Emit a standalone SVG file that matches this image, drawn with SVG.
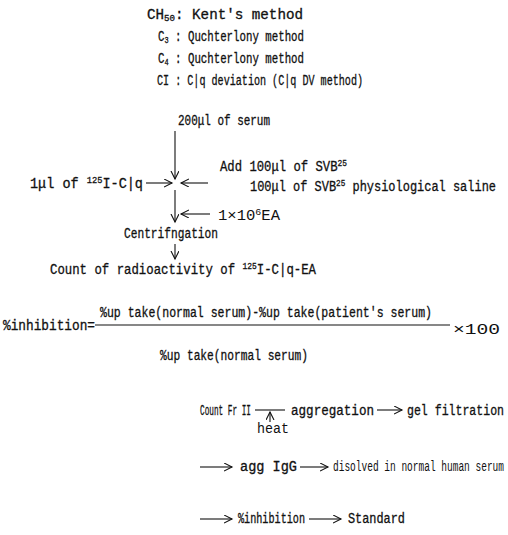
<svg xmlns="http://www.w3.org/2000/svg" width="508" height="535" viewBox="0 0 508 535">
<defs>
<style>
text{font-family:"Liberation Mono","DejaVu Sans Mono",monospace;font-size:14px;fill:#111;stroke:#111;stroke-width:0.3;}
text.lt{stroke:none;}
.sub{font-size:9px;}
.c line{stroke:#111;stroke-width:1.1;fill:none;}
.c .a{marker-end:url(#ah);}
</style>
<marker id="ah" markerWidth="10" markerHeight="10" refX="8" refY="4" orient="auto" markerUnits="userSpaceOnUse">
<path d="M0,0 L8,4 L0,8" fill="none" stroke="#111" stroke-width="1.1"/>
</marker>
</defs>
<rect width="508" height="535" fill="#fff"/>
<g id="methods">
<text x="147" y="19" textLength="156" lengthAdjust="spacingAndGlyphs">CH<tspan class="sub" dy="2">50</tspan><tspan dy="-2">: Kent's method</tspan></text>
<text x="158" y="41" textLength="146" lengthAdjust="spacingAndGlyphs">C<tspan class="sub" dy="2">3</tspan><tspan dy="-2"> : Quchterlony method</tspan></text>
<text x="158" y="63" textLength="146" lengthAdjust="spacingAndGlyphs">C<tspan class="sub" dy="2">4</tspan><tspan dy="-2"> : Quchterlony method</tspan></text>
<text x="157" y="85" textLength="206" lengthAdjust="spacingAndGlyphs">CI : C|q deviation (C|q DV method)</text>
</g>
<g id="serum"><text x="178" y="125" textLength="92" lengthAdjust="spacingAndGlyphs">200μl of serum</text></g>
<g id="c1q"><text x="30" y="188" textLength="113" lengthAdjust="spacingAndGlyphs">1μl of <tspan class="sub" dy="-5">125</tspan><tspan dy="5">I-C|q</tspan></text></g>
<g id="svb">
<text x="220" y="171" textLength="127" lengthAdjust="spacingAndGlyphs">Add 100μl of SVB<tspan class="sub" dy="-5">25</tspan></text>
<text x="250" y="191" textLength="246" lengthAdjust="spacingAndGlyphs">100μl of SVB<tspan class="sub" dy="-5">25</tspan><tspan dy="5"> physiological saline</tspan></text>
</g>
<g id="ea"><text class="lt" x="218" y="220" textLength="62" lengthAdjust="spacingAndGlyphs">1×10<tspan class="sub" dy="-5">6</tspan><tspan dy="5">EA</tspan></text></g>
<g id="centrifugation"><text x="124" y="238" textLength="94" lengthAdjust="spacingAndGlyphs">Centrifngation</text></g>
<g id="count"><text x="50" y="274" textLength="266" lengthAdjust="spacingAndGlyphs">Count of radioactivity of <tspan class="sub" dy="-5">125</tspan><tspan dy="5">I-C|q-EA</tspan></text></g>
<g id="formula">
<text x="100" y="317" textLength="332" lengthAdjust="spacingAndGlyphs">%up take(normal serum)-%up take(patient's serum)</text>
<text x="3" y="330" textLength="92" lengthAdjust="spacingAndGlyphs">%inhibition=</text>
<line x1="95" y1="325" x2="450" y2="325" stroke="#111" stroke-width="1.1"/>
<text class="lt" x="453" y="334" textLength="47" lengthAdjust="spacingAndGlyphs">×100</text>
<text x="160" y="360" textLength="148" lengthAdjust="spacingAndGlyphs">%up take(normal serum)</text>
</g>
<g id="frII"><text x="200" y="415" textLength="51" lengthAdjust="spacingAndGlyphs">Count Fr II</text></g>
<g id="heat"><text class="lt" x="257" y="433" textLength="32" lengthAdjust="spacingAndGlyphs">heat</text></g>
<g id="aggregation"><text x="291" y="415" textLength="83" lengthAdjust="spacingAndGlyphs">aggregation</text></g>
<g id="gel"><text x="407" y="415" textLength="97" lengthAdjust="spacingAndGlyphs">gel filtration</text></g>
<g id="aggIgG"><text x="240" y="471" textLength="57" lengthAdjust="spacingAndGlyphs">agg  IgG</text></g>
<g id="dissolved"><text class="lt" x="333" y="471" textLength="171" lengthAdjust="spacingAndGlyphs">disolved in normal human serum</text></g>
<g id="inhibition"><text x="238" y="523" textLength="67" lengthAdjust="spacingAndGlyphs">%inhibition</text></g>
<g id="standard"><text x="348" y="523" textLength="57" lengthAdjust="spacingAndGlyphs">Standard</text></g>
<g id="connectors" class="c">
<line class="a" x1="175" y1="131" x2="175" y2="179"/>
<line class="a" x1="146" y1="183" x2="172" y2="183"/>
<line class="a" x1="208" y1="183" x2="181" y2="183"/>
<line class="a" x1="175" y1="190" x2="175" y2="222"/>
<line class="a" x1="210" y1="214" x2="181" y2="214"/>
<line class="a" x1="175" y1="244" x2="175" y2="259"/>
<line x1="255" y1="410" x2="285" y2="410"/>
<line class="a" x1="270" y1="422" x2="270" y2="412"/>
<line class="a" x1="377" y1="410" x2="402" y2="410"/>
<line class="a" x1="200" y1="467" x2="232" y2="467"/>
<line class="a" x1="300" y1="467" x2="328" y2="467"/>
<line class="a" x1="200" y1="519" x2="232" y2="519"/>
<line class="a" x1="309" y1="519" x2="341" y2="519"/>
</g>
</svg>
